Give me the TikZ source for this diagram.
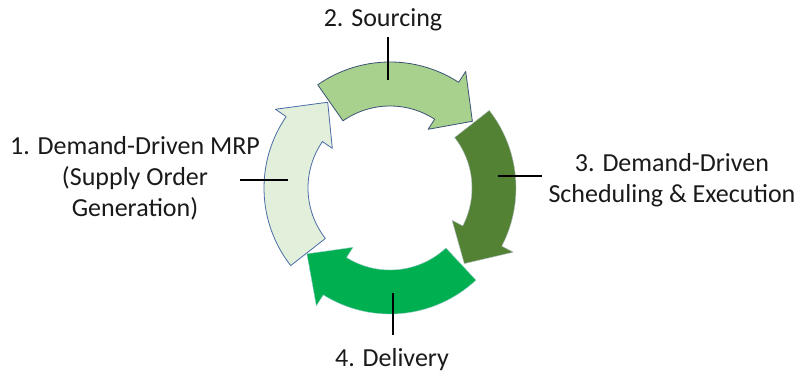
\documentclass[tikz,border=0pt]{standalone}
\usepackage{fontspec}
\setmainfont{Carlito}
\usetikzlibrary{calc}
\definecolor{aone}{HTML}{E2EFDA}
\definecolor{atwo}{HTML}{A9D18E}
\definecolor{athree}{HTML}{548235}
\definecolor{afour}{HTML}{00B050}
\definecolor{lineone}{HTML}{4A6CA8}
\definecolor{linetwo}{HTML}{3B5275}
\definecolor{txt}{HTML}{1A1A1A}
\def\Ro{126}
\def\Ri{82}
\def\Rt{106}
\def\Rbo{139}
\def\Rbi{70}
\newcommand\cycarrow[4]{%
  \path[#4] ($(c)+(#1:\Ro)$) arc[start angle=#1, end angle=#2, radius=\Ro]
    -- ($(c)+(#2:\Rbo)$) -- ($(c)+(#3:\Rt)$) -- ($(c)+(#2:\Rbi)$)
    -- ($(c)+(#2:\Ri)$) arc[start angle=#2, end angle=#1, radius=\Ri] -- cycle;}
\tikzset{
  lbl/.style={align=center, text=txt, inner sep=0pt, anchor=base,
    font=\fontsize{26}{31}\selectfont},
  tick/.style={draw=black, line width=2pt},
}
\begin{document}
\begin{tikzpicture}[x=1pt, y=1pt, line join=round]
\useasboundingbox[fill=white] (0,0) rectangle (802,374);
\coordinate (c) at (390,186);
% arrows
\cycarrow{218}{145.5}{126}{fill=aone, draw=lineone, line width=0.8pt}
\cycarrow{125}{57}{39}{fill=atwo, draw=linetwo, line width=0.8pt}
\cycarrow{38}{-27.5}{-45.5}{fill=athree, draw=athree!70!blue!40, line width=0.4pt}
\cycarrow{-47}{-122}{-141.6}{fill=afour, draw=afour!70!blue!40, line width=0.4pt}
% labels (base anchor = baseline of the last line)
\node[lbl] (l1) at (135,157) {1. Demand-Driven MRP\\(Supply Order\\Generation)};
\node[lbl] (l2) at (383,347) {2. Sourcing};
\node[lbl] (l3) at (672,171) {3. Demand-Driven\\Scheduling \& Execution};
\node[lbl] (l4) at (392,7) {4. Delivery};
% ticks
\coordinate (t1a) at (240,194); \coordinate (t1b) at (288,194);
\coordinate (t2a) at (388,337); \coordinate (t2b) at (388,294);
\coordinate (t3a) at (498,198); \coordinate (t3b) at (542,198);
\coordinate (t4a) at (393,81);  \coordinate (t4b) at (393,39);
\draw[tick] (t1a) -- (t1b);
\draw[tick] (t2a) -- (t2b);
\draw[tick] (t3a) -- (t3b);
\draw[tick] (t4a) -- (t4b);
\end{tikzpicture}
\end{document}
